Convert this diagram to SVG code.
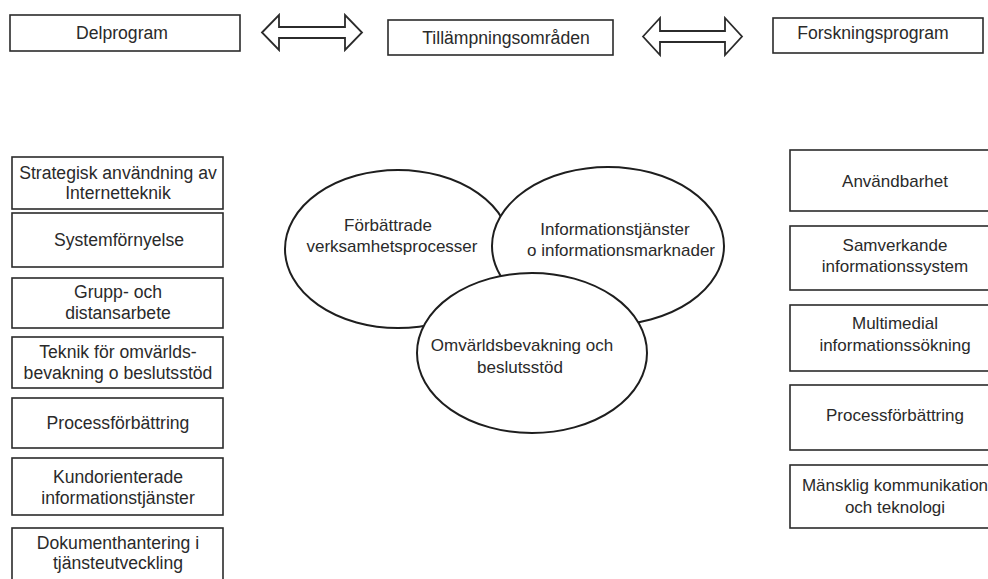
<svg xmlns="http://www.w3.org/2000/svg" width="988" height="579" viewBox="0 0 988 579">
<style>
  .box { fill: #ffffff; stroke: #2b2b2b; stroke-width: 1.6; }
  .ell { fill: #ffffff; stroke: #1e1e1e; stroke-width: 2; }
  .arr { fill: #ffffff; stroke: #2b2b2b; stroke-width: 1.8; stroke-linejoin: miter; }
  text { font-family: "Liberation Sans", Arial, sans-serif; font-size: 17.6px; fill: #2a2a2a; text-anchor: middle; }
  .rc text, .ec text { font-size: 17px; }
</style>
<rect width="988" height="579" fill="#ffffff"/>

<!-- top row -->
<g id="delprogram">
  <rect class="box" x="10" y="15" width="230" height="36"/>
  <text x="122" y="39">Delprogram</text>
</g>
<g id="tillampningsomraden">
  <rect class="box" x="388" y="20" width="225" height="35"/>
  <text x="506" y="44">Tillämpningsområden</text>
</g>
<g id="forskningsprogram">
  <rect class="box" x="773" y="18" width="210" height="35"/>
  <text x="873" y="39">Forskningsprogram</text>
</g>

<g id="connectors">
  <polygon class="arr" points="262,32.5 279,15 279,27 345,27 345,15 362,32.5 345,50 345,38 279,38 279,50"/>
  <polygon class="arr" points="643,36.5 660,18 660,31 725,31 725,18 742,36.5 725,55 725,42 660,42 660,55"/>
</g>

<!-- left column -->
<g id="l1">
  <rect class="box" x="12" y="157" width="211" height="52"/>
  <text x="118" y="179">Strategisk användning av</text>
  <text x="118" y="199">Internetteknik</text>
</g>
<g id="l2">
  <rect class="box" x="12" y="213" width="211" height="54"/>
  <text x="119" y="246">Systemförnyelse</text>
</g>
<g id="l3">
  <rect class="box" x="12" y="278" width="211" height="50"/>
  <text x="118" y="298">Grupp- och</text>
  <text x="118" y="319">distansarbete</text>
</g>
<g id="l4">
  <rect class="box" x="12" y="337" width="211" height="51"/>
  <text x="118" y="358">Teknik för omvärlds-</text>
  <text x="118" y="379">bevakning o beslutsstöd</text>
</g>
<g id="l5">
  <rect class="box" x="12" y="398" width="211" height="50"/>
  <text x="118" y="429">Processförbättring</text>
</g>
<g id="l6">
  <rect class="box" x="12" y="458" width="211" height="57"/>
  <text x="118" y="483">Kundorienterade</text>
  <text x="118" y="504">informationstjänster</text>
</g>
<g id="l7">
  <rect class="box" x="12" y="528" width="211" height="60"/>
  <text x="118" y="549">Dokumenthantering i</text>
  <text x="118" y="569">tjänsteutveckling</text>
</g>

<!-- ellipses -->
<g class="ec">
<g id="e1">
  <ellipse class="ell" cx="398" cy="249" rx="113" ry="79"/>
  <text x="388" y="231">Förbättrade</text>
  <text x="392" y="252">verksamhetsprocesser</text>
</g>
<g id="e2">
  <ellipse class="ell" cx="608" cy="246" rx="116" ry="79"/>
  <text x="615" y="235">Informationstjänster</text>
  <text x="621" y="256">o informationsmarknader</text>
</g>
<g id="e3">
  <ellipse class="ell" cx="532" cy="353" rx="115" ry="80"/>
  <text x="522" y="351">Omvärldsbevakning och</text>
  <text x="520" y="373">beslutsstöd</text>
</g>
</g>

<!-- right column -->
<g class="rc">
<g id="r1">
  <rect class="box" x="790" y="150" width="210" height="61"/>
  <text x="895" y="187">Användbarhet</text>
</g>
<g id="r2">
  <rect class="box" x="790" y="226" width="210" height="64"/>
  <text x="895" y="251">Samverkande</text>
  <text x="895" y="272">informationssystem</text>
</g>
<g id="r3">
  <rect class="box" x="790" y="305" width="210" height="66"/>
  <text x="895" y="329">Multimedial</text>
  <text x="895" y="351">informationssökning</text>
</g>
<g id="r4">
  <rect class="box" x="790" y="385" width="210" height="65"/>
  <text x="895" y="421">Processförbättring</text>
</g>
<g id="r5">
  <rect class="box" x="790" y="465" width="210" height="63"/>
  <text x="895" y="491">Mänsklig kommunikation</text>
  <text x="895" y="513">och teknologi</text>
</g>
</g>
</svg>
